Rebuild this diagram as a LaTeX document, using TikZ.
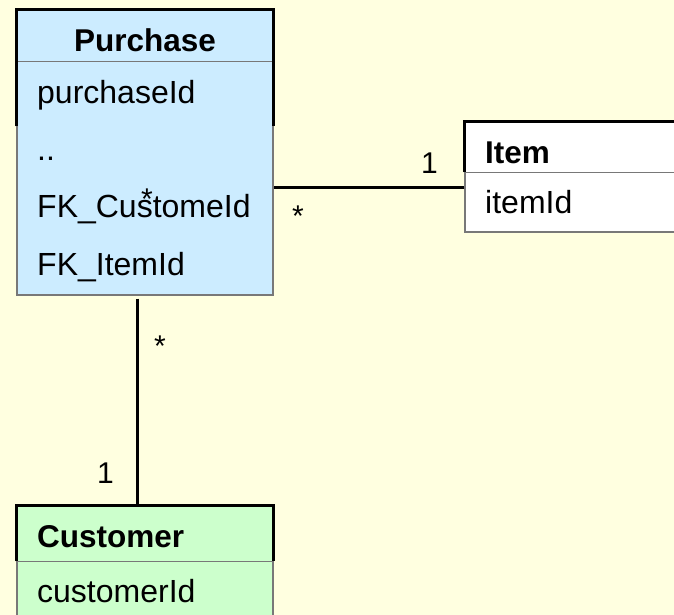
\documentclass[tikz,border=0pt]{standalone}
\usepackage{fontspec}
\setmainfont{Liberation Sans}
\definecolor{bgyellow}{RGB}{255,255,224}
\definecolor{purchblue}{RGB}{204,236,255}
\definecolor{custgreen}{RGB}{204,255,204}
\definecolor{boxgray}{RGB}{120,120,120}
\tikzset{
  entity/.style={draw=boxgray, line width=1.2pt, inner sep=0pt},
  hdrline/.style={draw=black, line width=2.6pt},
  sepline/.style={draw=boxgray, line width=1.2pt},
  assoc/.style={draw=black, line width=3pt},
  title/.style={font=\fontsize{31.5}{36}\selectfont\bfseries, inner sep=0pt},
  attr/.style={font=\fontsize{32}{36}\selectfont, inner sep=0pt, anchor=base west},
  mult/.style={font=\fontsize{30}{34}\selectfont, inner sep=0pt}
}
\begin{document}
\begin{tikzpicture}[x=1pt,y=-1pt]
\fill[bgyellow] (0,0) rectangle (674,615);
\useasboundingbox (0,0) rectangle (674,615);
% tables
\node[entity, fill=purchblue, minimum width=256pt, minimum height=285pt] (purchase) at (145,152.5) {};
\node[entity, fill=white, minimum width=219pt, minimum height=110pt] (item) at (574.5,177) {};
\node[entity, fill=custgreen, minimum width=256pt, minimum height=119pt] (customer) at (145,565.5) {};
\draw[sepline] ([yshift=-52pt]purchase.north west) -- ([yshift=-52pt]purchase.north east);
\draw[sepline] ([yshift=-51pt]item.north west) -- ([yshift=-51pt]item.north east);
\draw[sepline] ([yshift=-56pt]customer.north west) -- ([yshift=-56pt]customer.north east);
\draw[hdrline] ([yshift=-117pt]purchase.north west) -- (purchase.north west) -- (purchase.north east) -- ([yshift=-117pt]purchase.north east);
\draw[hdrline] ([yshift=-51pt]item.north west) -- (item.north west) -- (item.north east);
\draw[hdrline] ([yshift=-56pt]customer.north west) -- (customer.north west) -- (customer.north east) -- ([yshift=-56pt]customer.north east);
% names and columns
\node[title, anchor=base] (purchasename) at (145,52) {Purchase};
\node[title, anchor=base west] (itemname) at (485,163) {Item};
\node[title, anchor=base west] (customername) at (37,547) {Customer};
\foreach \y/\t [count=\i] in {103/purchaseId, 160/.., 217/FK\_CustomeId, 275/FK\_ItemId}
	\node[attr] (pcol\i) at (37,\y) {\t};
\node[attr] (icol1) at (485,213) {itemId};
\node[attr] (ccol1) at (37,602) {customerId};
% associations
\draw[assoc] ([yshift=-10pt]item.west) -- ([yshift=-10pt]item.west -| purchase.east);
\draw[assoc] ([xshift=-8pt,yshift=-3pt]purchase.south) -- ([xshift=-8pt]customer.north);
\node[mult, anchor=base east] (itemone) at (438,173) {1};
\node[mult, anchor=base] (itemstar) at (298,226) {*};
\node[mult, anchor=base] (custstar) at (160,356) {*};
\node[mult, anchor=base east] (custone) at (114,483) {1};
\node[mult, anchor=base] (straystar) at (147,209) {*};
\end{tikzpicture}
\end{document}
